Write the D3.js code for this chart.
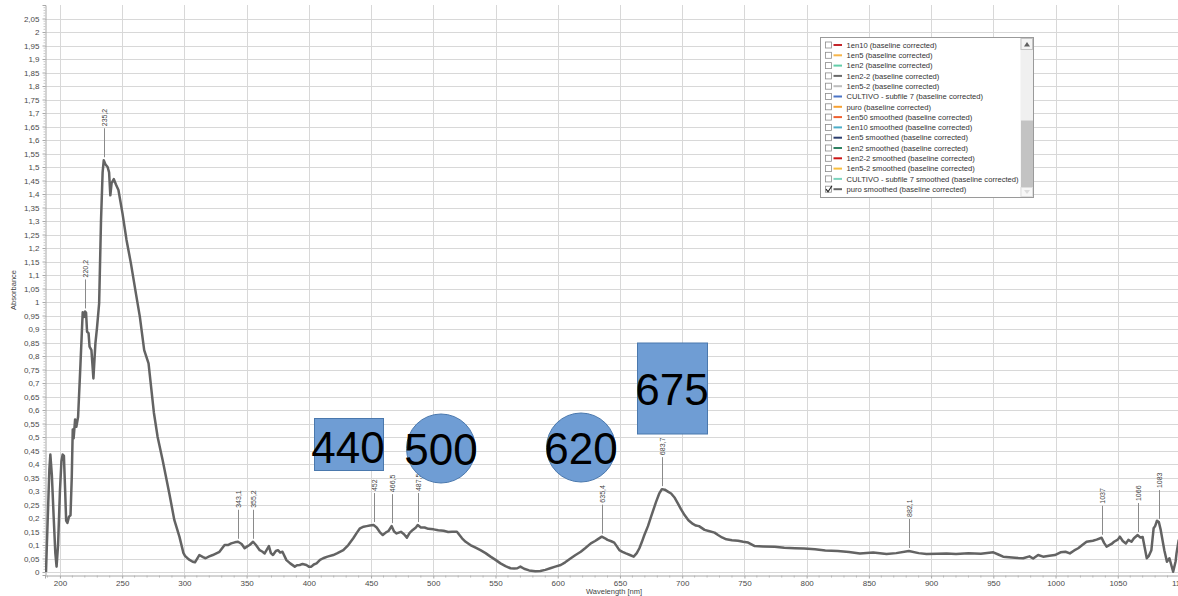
<!DOCTYPE html>
<html>
<head>
<meta charset="utf-8">
<script src="https://cdn.jsdelivr.net/npm/d3@7"></script>
<style>
  html, body { margin: 0; padding: 0; background: #fff; }
  svg { display: block; font-family: "Liberation Sans", Arial, sans-serif; }
</style>
</head>
<body>
<svg id="chart" width="1178" height="596"></svg>
<script>
// Absorption spectrum "puro smoothed (baseline corrected)"
const wavelengths = [
  188.8, 189.5, 191.5, 192.3, 193.5, 195, 196.3, 197.3, 198.5, 200, 201.2, 202.2, 203.2, 204.2, 205, 206, 207.3, 208.5, 209.5, 210.3,
  211, 212.2, 213.2, 214.6, 216.5, 218.3, 219.5, 220.2, 221, 221.8, 223, 223.8, 225.3, 226.9, 228.5, 229.8, 231.5, 233, 234.3, 235.2,
  236.5, 238.3, 239.5, 240.5, 241.5, 243.3, 245, 247, 250.2, 253.5, 257, 261, 264.2, 267.7, 271.2, 275.5, 278.5, 282.5, 287.9, 291.9,
  296, 299.2, 300.5, 303.5, 306.7, 308.5, 312, 315, 317, 320, 322.8, 328.2, 332.3, 335, 337.6, 340.5, 343.1, 346, 348.4, 350.5,
  352.4, 355.2, 357.5, 360.5, 362.5, 364.5, 366.5, 367.9, 369.5, 371.2, 373.5, 375.2, 377, 378.8, 382, 385, 388.7, 390.5, 392.7, 395,
  398, 400, 402, 404, 406.2, 409, 411.5, 415, 419.6, 423, 427.7, 431.7, 435.7, 438.5, 441.1, 444, 446.5, 449, 452, 454.5,
  457, 459.4, 462, 464, 466.5, 468.5, 470.5, 474, 476.5, 478.8, 481, 483.5, 486, 487.5, 490, 493, 496, 500.3, 504, 508.3,
  512, 515, 519, 523.1, 526, 529.8, 534, 537.9, 542, 546, 550, 554, 558, 562, 565, 567.5, 570, 573, 577, 582,
  586, 590, 594, 598, 602.4, 606, 610.5, 614, 618.5, 622, 626.6, 630, 632, 635.4, 638, 640, 643, 645.4, 647.5, 649.5,
  652, 654.8, 658, 661, 663.5, 665.6, 667.5, 669.6, 672.5, 675, 679, 681.5, 683.7, 686, 688.5, 691.1, 694, 696.5, 699, 701.9,
  705, 708.6, 711, 713.5, 718, 722, 726, 728.8, 732, 735.5, 740, 744.9, 749, 753, 758.3, 765, 774.4, 782, 790.6, 798,
  806.7, 815, 825, 834, 842.8, 853.5, 864.2, 872, 882.1, 890, 896.3, 905, 912.4, 920, 930, 940, 950, 954, 957.9, 965,
  970, 974, 979, 982, 986, 990, 995, 999.5, 1004, 1008, 1011.5, 1015, 1018.2, 1021.5, 1024.9, 1030, 1033, 1037, 1039, 1041,
  1045, 1047, 1050, 1051.7, 1054, 1056.5, 1058.5, 1061, 1063, 1066, 1068, 1070, 1073.3, 1075, 1077, 1078.8, 1080, 1081.5, 1083, 1084.5,
  1087.4, 1089.5, 1091.5, 1094.5, 1096.5, 1097.2, 1099
];
const absorbance = [
  0.0, 0.1, 0.38, 0.435, 0.36, 0.2, 0.07, 0.02, 0.1, 0.3, 0.41, 0.435, 0.43, 0.3, 0.19, 0.182, 0.205, 0.21, 0.35, 0.528,
  0.495, 0.565, 0.538, 0.575, 0.77, 0.962, 0.945, 0.965, 0.96, 0.89, 0.885, 0.835, 0.822, 0.717, 0.847, 0.905, 0.995, 1.3, 1.48, 1.525,
  1.51, 1.5, 1.48, 1.395, 1.44, 1.455, 1.435, 1.415, 1.33, 1.23, 1.144, 1.033, 0.946, 0.822, 0.773, 0.59, 0.5, 0.415, 0.291, 0.193,
  0.131, 0.071, 0.06, 0.047, 0.038, 0.036, 0.063, 0.055, 0.051, 0.058, 0.063, 0.075, 0.1, 0.1, 0.106, 0.11, 0.112, 0.104, 0.088, 0.095,
  0.1, 0.112, 0.1, 0.081, 0.076, 0.069, 0.085, 0.096, 0.07, 0.063, 0.078, 0.081, 0.072, 0.075, 0.044, 0.032, 0.02, 0.025, 0.026, 0.03,
  0.026, 0.02, 0.02, 0.028, 0.032, 0.045, 0.051, 0.057, 0.063, 0.07, 0.081, 0.1, 0.125, 0.145, 0.162, 0.168, 0.17, 0.172, 0.174, 0.165,
  0.148, 0.137, 0.147, 0.152, 0.17, 0.15, 0.143, 0.149, 0.14, 0.127, 0.145, 0.156, 0.165, 0.174, 0.165, 0.165, 0.16, 0.158, 0.155, 0.153,
  0.148, 0.149, 0.149, 0.125, 0.112, 0.1, 0.09, 0.081, 0.07, 0.057, 0.045, 0.032, 0.022, 0.014, 0.013, 0.014, 0.02, 0.012, 0.006, 0.003,
  0.004, 0.008, 0.014, 0.02, 0.026, 0.036, 0.051, 0.062, 0.075, 0.088, 0.106, 0.115, 0.121, 0.131, 0.125, 0.119, 0.114, 0.109, 0.095, 0.081,
  0.075, 0.069, 0.063, 0.057, 0.07, 0.088, 0.11, 0.137, 0.17, 0.205, 0.26, 0.29, 0.307, 0.305, 0.298, 0.291, 0.275, 0.254, 0.233, 0.211,
  0.192, 0.178, 0.172, 0.17, 0.156, 0.151, 0.146, 0.137, 0.128, 0.121, 0.118, 0.116, 0.112, 0.109, 0.096, 0.095, 0.094, 0.09, 0.088, 0.087,
  0.084, 0.08, 0.078, 0.074, 0.069, 0.072, 0.067, 0.07, 0.078, 0.07, 0.067, 0.068, 0.069, 0.067, 0.07, 0.068, 0.073, 0.065, 0.057, 0.054,
  0.052, 0.051, 0.058, 0.05, 0.063, 0.057, 0.06, 0.063, 0.073, 0.075, 0.069, 0.08, 0.088, 0.1, 0.112, 0.116, 0.12, 0.127, 0.108, 0.094,
  0.104, 0.112, 0.12, 0.131, 0.115, 0.106, 0.119, 0.112, 0.125, 0.137, 0.128, 0.13, 0.051, 0.06, 0.081, 0.162, 0.17, 0.19, 0.185, 0.156,
  0.081, 0.038, 0.051, 0.001, 0.04, 0.069, 0.12
];

// Peak markers (wavelength in nm)
const peakWavelengths = [220.2, 235.2, 343.1, 355.2, 452, 466.5, 487.5, 635.4, 683.7, 882.1, 1037, 1066, 1083];

// Axis ticks
const xTickValues = [200, 250, 300, 350, 400, 450, 500, 550, 600, 650, 700, 750, 800, 850, 900, 950, 1000, 1050, 1100];
const yTickValues = d3.range(0, 41 + 1).map(i => +(i * 0.05).toFixed(2));

// Legend entries
const legendNames = [
  "1en10 (baseline corrected)", "1en5 (baseline corrected)", "1en2 (baseline corrected)",
  "1en2-2 (baseline corrected)", "1en5-2 (baseline corrected)", "CULTIVO - subfile 7 (baseline corrected)",
  "puro (baseline corrected)", "1en50 smoothed (baseline corrected)", "1en10 smoothed (baseline corrected)",
  "1en5 smoothed (baseline corrected)", "1en2 smoothed (baseline corrected)", "1en2-2 smoothed (baseline corrected)",
  "1en5-2 smoothed (baseline corrected)", "CULTIVO - subfile 7 smoothed (baseline corrected)", "puro smoothed (baseline corrected)"
];
const legendColors = [
  "#c4262b", "#f6b54a", "#62cda8", "#6a6a6a", "#bdbdbd", "#4b74c6", "#f6a133", "#ee6030",
  "#4cadc8", "#2c3e6e", "#2f8262", "#cc1515", "#f8bd3d", "#7bd3bd", "#666666"
];
const legendChecked = [false, false, false, false, false, false, false, false, false, false, false, false, false, false, true];

// Highlighted wavelength bands drawn over the plot
const bandLabels = ["440", "500", "620", "675"];

const svg = d3.select("#chart");
const W = 1178, H = 596;
const margin = { left: 45, top: 5, bottom: 21 };

const x = d3.scaleLinear().domain([188, 1100]).range([margin.left, 1180]);
const y = d3.scaleLinear().domain([-0.011, 2.1]).range([H - margin.bottom, margin.top]);
const fmt = v => String(+v.toFixed(2)).replace(".", ",");

// Plot clip
svg.append("defs").append("clipPath").attr("id", "plotClip")
  .append("rect").attr("x", margin.left).attr("y", margin.top)
  .attr("width", W - margin.left).attr("height", H - margin.bottom - margin.top);

// Grid
const grid = svg.append("g").attr("stroke", "#d8d8d8").attr("stroke-width", 1);
grid.selectAll(".hg").data(yTickValues).join("line")
  .attr("x1", margin.left).attr("x2", W)
  .attr("y1", d => Math.round(y(d)) + 0.5).attr("y2", d => Math.round(y(d)) + 0.5);
grid.selectAll(".vg").data(xTickValues).join("line")
  .attr("y1", margin.top).attr("y2", H - margin.bottom)
  .attr("x1", d => Math.round(x(d)) + 0.5).attr("x2", d => Math.round(x(d)) + 0.5);

// Axes
const xAxis = d3.axisBottom(x).tickValues(xTickValues).tickSize(3).tickPadding(2).tickFormat(d => d);
const gx = svg.append("g").attr("transform", `translate(0,${H - margin.bottom + 0.5})`).call(xAxis);
const xMinor = d3.range(190, 1101, 10).filter(v => v % 50 !== 0);
gx.selectAll(".minor").data(xMinor).join("line").attr("class", "minor")
  .attr("x1", d => x(d)).attr("x2", d => x(d)).attr("y1", 0).attr("y2", 2).attr("stroke", "#b5b5b5");

const yAxis = d3.axisLeft(y).tickValues(yTickValues).tickSize(3).tickPadding(3).tickFormat(fmt);
const gy = svg.append("g").attr("transform", `translate(${margin.left + 0.5},0)`).call(yAxis);
const yMinor = d3.range(0, 211).map(i => i * 0.01).filter((v, i) => i % 5 !== 0 && v <= 2.09);
gy.selectAll(".minor").data(yMinor).join("line").attr("class", "minor")
  .attr("x1", -2).attr("x2", 0).attr("y1", d => y(d)).attr("y2", d => y(d)).attr("stroke", "#c8c8c8");

[gx, gy].forEach(g => {
  g.select(".domain").attr("stroke", "#a8a8a8");
  g.selectAll(".tick line").attr("stroke", "#a8a8a8");
  g.selectAll(".tick text").attr("fill", "#4a4a4a").style("font-size", "8px")
    .style("font-family", "'Liberation Sans', Arial, sans-serif");
});

// Axis titles
svg.append("text").attr("x", 614).attr("y", 594).attr("text-anchor", "middle")
  .attr("fill", "#444444").style("font-size", "7.5px").text("Wavelength [nm]");
svg.append("text").attr("transform", `translate(16,${(margin.top + H - margin.bottom) / 2}) rotate(-90)`)
  .attr("text-anchor", "middle").attr("fill", "#444444").style("font-size", "7.5px").text("Absorbance");

// Spectrum
const spectrum = wavelengths.map((w, i) => ({ w, a: absorbance[i] }));
const line = d3.line().x(d => x(d.w)).y(d => y(d.a));
svg.append("path").datum(spectrum).attr("clip-path", "url(#plotClip)")
  .attr("fill", "none").attr("stroke", "#636363").attr("stroke-width", 2.5)
  .attr("stroke-linejoin", "round").attr("d", line);

// Peak annotations
const valueAt = w => {
  const i = d3.bisector(d => d.w).left(spectrum, w);
  if (i <= 0) return spectrum[0].a;
  if (i >= spectrum.length) return spectrum[spectrum.length - 1].a;
  const p = spectrum[i - 1], q = spectrum[i];
  return p.a + (q.a - p.a) * (w - p.w) / (q.w - p.w);
};
const peaks = svg.append("g");
peakWavelengths.forEach(w => {
  const px = Math.round(x(w)) + 0.5;
  const py = y(valueAt(w)) - 3;
  peaks.append("line").attr("x1", px).attr("x2", px).attr("y1", py).attr("y2", py - 29)
    .attr("stroke", "#8a8a8a").attr("stroke-width", 1);
  peaks.append("text").attr("transform", `translate(${px + 2.5},${py - 31}) rotate(-90)`)
    .attr("fill", "#444").style("font-size", "7px").text(fmt(w));
});

// Highlighted bands
const bands = svg.append("g");
const bandFill = "#6f9dd4", bandStroke = "#4a78ad";
const bandShapes = [
  { kind: "rect", x0: 314, y0: 418, w: 69, h: 52, tx: 348, ty: 463 },
  { kind: "circle", cx: 441, cy: 448.5, r: 34.5, tx: 441, ty: 465 },
  { kind: "circle", cx: 581, cy: 447.5, r: 34.5, tx: 581, ty: 464 },
  { kind: "rect", x0: 637, y0: 342.5, w: 70, h: 91, tx: 672, ty: 405 }
];
bandShapes.forEach((s, i) => {
  if (s.kind === "rect") {
    bands.append("rect").attr("x", s.x0 + 0.5).attr("y", s.y0 + 0.5).attr("width", s.w).attr("height", s.h)
      .attr("fill", bandFill).attr("stroke", bandStroke).attr("stroke-width", 1);
  } else {
    bands.append("circle").attr("cx", s.cx).attr("cy", s.cy).attr("r", s.r)
      .attr("fill", bandFill).attr("stroke", bandStroke).attr("stroke-width", 1);
  }
  bands.append("text").attr("x", s.tx).attr("y", s.ty).attr("text-anchor", "middle")
    .attr("fill", "#000").style("font-size", "44px").text(bandLabels[i]);
});

// Legend panel
const lg = svg.append("g").attr("transform", "translate(820.5,37.5)");
const lgW = 213, lgH = 160;
lg.append("rect").attr("width", lgW).attr("height", lgH).attr("fill", "#fff").attr("stroke", "#9a9a9a");
// scrollbar
const sbX = lgW - 13;
lg.append("rect").attr("x", sbX).attr("y", 0.5).attr("width", 12.5).attr("height", lgH - 1).attr("fill", "#f0f0f0");
lg.append("rect").attr("x", sbX + 0.5).attr("y", 1).attr("width", 11.5).attr("height", 11)
  .attr("fill", "#f4f4f4").attr("stroke", "#c4c4c4");
lg.append("path").attr("d", `M${sbX + 3.5},${9} L${sbX + 9.5},${9} L${sbX + 6.5},${4.5} Z`).attr("fill", "#606060");
lg.append("rect").attr("x", sbX + 0.5).attr("y", 83).attr("width", 12).attr("height", 67).attr("fill", "#c3c3c3");
lg.append("rect").attr("x", sbX + 0.5).attr("y", 150).attr("width", 11.5).attr("height", 9)
  .attr("fill", "#f7f7f7").attr("stroke", "#dedede");
lg.append("path").attr("d", `M${sbX + 3.5},${152.5} L${sbX + 9.5},${152.5} L${sbX + 6.5},${156.5} Z`).attr("fill", "#dcdcdc");

const rows = lg.selectAll(".row").data(legendNames).join("g")
  .attr("transform", (d, i) => `translate(0,${7.5 + i * 10.3})`);
rows.append("rect").attr("x", 5).attr("y", -3).attr("width", 6).attr("height", 6)
  .attr("fill", "#fff").attr("stroke", "#8c8c8c").attr("stroke-width", 0.8);
rows.append("line").attr("x1", 13).attr("x2", 21.5).attr("y1", 0).attr("y2", 0)
  .attr("stroke", (d, i) => legendColors[i]).attr("stroke-width", 2);
rows.append("text").attr("x", 26).attr("y", 2.7).attr("fill", "#333")
  .style("font-size", "7.6px").text(d => d);
rows.filter((d, i) => legendChecked[i]).append("path")
  .attr("d", "M5.5,0 L7.5,2.5 L11.5,-3.5").attr("fill", "none").attr("stroke", "#222").attr("stroke-width", 1.1);
</script>
</body>
</html>
